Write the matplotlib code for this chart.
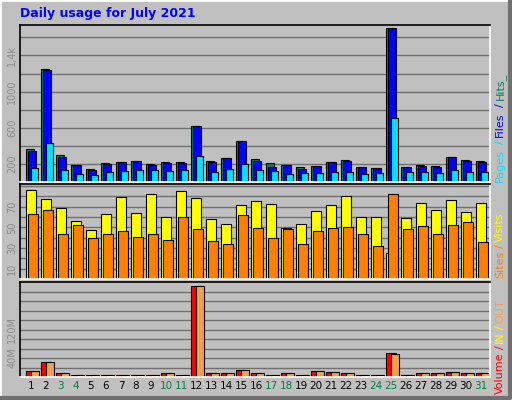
import matplotlib
matplotlib.use("Agg")
import matplotlib.pyplot as plt
import numpy as np
from matplotlib.patches import Rectangle

days = list(range(1, 32))
weekend = [3, 4, 10, 11, 17, 18, 24, 25, 31]
hits = [367,1255,300,189,144,211,222,233,200,222,222,622,233,267,456,256,211,189,167,178,222,244,167,156,1700,167,189,178,278,244,233]
files = [348,1244,281,189,133,200,222,233,189,211,211,622,222,267,456,233,167,189,144,178,222,233,167,156,1700,167,178,167,278,233,222]
pages = [155,433,133,89,78,111,122,133,133,122,133,289,111,144,200,133,122,89,100,100,111,111,89,100,711,111,111,100,133,111,111]
visits = [86.6,77.8,69,56.2,47.4,63,79.7,64,82.7,60,85.6,78.8,58.2,53.3,71.9,75.8,72.9,49.3,53.3,66,71.9,80.7,60,60,24.8,59,73.9,67,76.8,65,73.9]
sites = [63,67,43.5,52.3,39.5,43.5,46.4,40.5,43.5,37.6,60,48.4,36.6,33.7,62,49.3,39.5,48.4,33.7,46.4,49.3,50.3,43.5,31.7,82.7,48.4,51.3,43.5,52.3,55.2,35.6]
volume = [12,32,9,5,5,5,5,5,5,7.7,5,191,7.7,7.7,14,7.7,5,7.7,5,12,10,7.7,5,5,51,5,7.7,7.7,10,7.7,7.7]
kbout = [12,32,9,5,5,5,5,5,5,7.7,5,191,7.7,7.7,14,7.7,5,7.7,5,12,10,7.7,5,5,49,5,7.7,7.7,10,7.7,7.7]

BG = "#c0c0c0"
W, H = 512, 400
fig = plt.figure(figsize=(5.12, 4.0), dpi=100, facecolor=BG)

def fx(x): return x / W
def fy(y): return 1 - y / H

# bevel border
fig.patches.append(Rectangle((0, 0), 1, 1, transform=fig.transFigure, fill=False, ec="white", lw=2))
fig.add_artist(plt.Line2D([fx(2), fx(510), fx(510)], [fy(398), fy(398), fy(2)], transform=fig.transFigure, color="#707070", lw=3))

x = np.array(days, dtype=float)
L, R = 20, 490

def mkax(top, bot, ymax, grid):
    ax = fig.add_axes([fx(L), fy(bot), fx(R - L), (bot - top) / H])
    ax.set_facecolor(BG)
    ax.set_xlim(0.27, 31.6)
    ax.set_ylim(0, ymax)
    for g in grid:
        ax.axhline(g, color="#707070", lw=1, zorder=0)
    ax.set_xticks([])
    for s in ax.spines.values():
        s.set_color("black"); s.set_linewidth(1.2)
    ax.spines["right"].set_color("white"); ax.spines["bottom"].set_color("white")
    ax.tick_params(axis="y", length=0, labelsize=7, labelcolor="#8a8a8a", pad=2)
    for t in ax.get_yticklabels():
        t.set_rotation(90)
    return ax

bw = 0.5
ax1 = mkax(25, 182, 1737, np.arange(200, 1700, 200))
ax1.bar(x - 0.3, hits, bw, align="edge", color="#00805c", ec="black", lw=0.8)
ax1.bar(x - 0.17, files, bw, align="edge", color="#0000ff", ec="black", lw=0.8)
ax1.bar(x - 0.03, pages, bw, align="edge", color="#00e0ff", ec="black", lw=0.8)
ax1.set_yticks([200, 600, 1000, 1400], ["200", "600", "1000", "1,4k"], va="center")

ax2 = mkax(184, 279, 92, np.arange(10, 92, 10))
ax2.bar(x - 0.3, visits, 0.62, align="edge", color="#ffff00", ec="black", lw=0.8)
ax2.bar(x - 0.17, sites, 0.62, align="edge", color="#ff8000", ec="black", lw=0.8)
ax2.set_yticks([10, 30, 50, 70], ["10", "30", "50", "70"], va="center")

ax3 = mkax(282, 377, 200, np.arange(20, 200, 20))
ax3.bar(x - 0.3, volume, 0.62, align="edge", color="#ff0000", ec="black", lw=0.8)
ax3.bar(x - 0.03, kbout, 0.55, align="edge", color="#f0a050", ec="black", lw=0.8)
ax3.set_yticks([40, 100], ["40M", "120M"], va="center")

for ax in (ax1, ax2, ax3):
    for t in ax.get_yticklabels():
        t.set_rotation(90)

for d in days:
    ax3.text(d, -8, str(d), ha="center", va="top", fontsize=7.5,
             color="#008040" if d in weekend else "black", transform=ax3.transData, clip_on=False)

fig.text(fx(20), fy(14), "Daily usage for July 2021", color="#0000ff", fontsize=9, fontweight="bold", va="center")

def vlabel(parts, ybottom, xpos=500):
    y = ybottom
    for txt, col, h in parts:
        fig.text(fx(xpos), fy(y), txt, color=col, rotation=90, fontsize=8, ha="center", va="bottom")
        y -= h

vlabel([("Pages", "#00e0ff", 38), ("/", "#00e0ff", 7), ("Files", "#0000ff", 30), ("/", "#0000ff", 7), ("Hits_", "#00805c", 30)], 182)
vlabel([("Sites", "#ff8000", 30), ("/", "#ff8000", 6), ("Visits", "#ffff00", 35)], 278)
vlabel([("Volume", "#ff0000", 45), ("/", "#ff0000", 6), ("IN", "#ffff00", 14), ("/", "#ffff00", 6), ("OUT", "#f0a050", 30)], 394)

fig.savefig("out.png", dpi=100, facecolor=BG)
